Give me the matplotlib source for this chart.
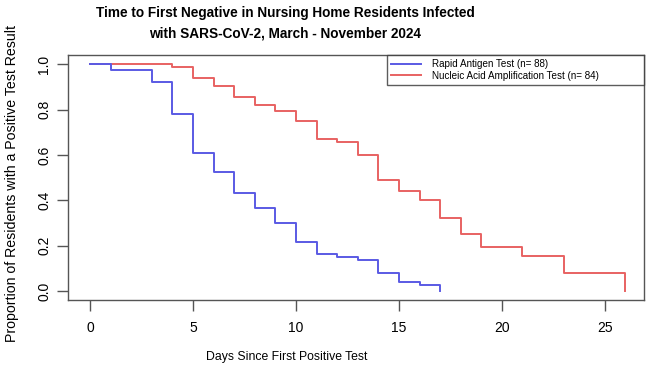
import matplotlib
matplotlib.use("Agg")
import matplotlib.pyplot as plt

plt.rcParams['font.family'] = ['Liberation Sans', 'DejaVu Sans']

# Kaplan-Meier style curves
rat_days = [0, 1, 3, 4, 5, 6, 7, 8, 9, 10, 11, 12, 13, 14, 15, 16, 17]
rat_surv = [1.0, 0.977, 0.92, 0.78, 0.61, 0.525, 0.43, 0.365, 0.30, 0.215,
            0.165, 0.15, 0.135, 0.08, 0.04, 0.025, 0.0]

naat_days = [0, 4, 5, 6, 7, 8, 9, 10, 11, 12, 13, 14, 15, 16, 17, 18, 19, 21, 23, 26]
naat_surv = [1.0, 0.988, 0.94, 0.905, 0.857, 0.82, 0.795, 0.75, 0.67, 0.655,
             0.60, 0.49, 0.44, 0.40, 0.32, 0.25, 0.195, 0.155, 0.078, 0.0]

xticks = [0, 5, 10, 15, 20, 25]
yticks = [0.0, 0.2, 0.4, 0.6, 0.8, 1.0]

W, H = 650, 371
fig = plt.figure(figsize=(6.5, 3.71), dpi=100)
ax = fig.add_axes([68 / W, 1 - 300 / H, (644 - 68) / W, (300 - 55) / H])

ax.plot(naat_days, naat_surv, drawstyle='steps-post', color='#e86262', lw=1.4,
        label='Nucleic Acid Amplification Test (n= 84)')
ax.plot(rat_days, rat_surv, drawstyle='steps-post', color='#5a5ae4', lw=1.4,
        label='Rapid Antigen Test (n= 88)')

ax.set_xlim(-1.07, 26.9)
ax.set_ylim(-0.04, 1.041)
ax.set_xticks(xticks)
ax.set_xticklabels([str(t) for t in xticks])
ax.set_yticks(yticks)
ax.set_yticklabels([f"{t:.1f}" for t in yticks], rotation=90, va='center')
ax.tick_params(direction='out', length=8, width=1, color='#555555',
               labelsize=10)
ax.tick_params(axis='x', pad=7)
ax.tick_params(axis='y', pad=4)
for s in ax.spines.values():
    s.set_color('#555555')
    s.set_linewidth(1)

h, l = ax.get_legend_handles_labels()
lx0 = (387 - 68) / 576
leg = ax.legend(h[::-1], l[::-1], loc='upper left', mode='expand',
                bbox_to_anchor=(lx0, 0, 1 - lx0, 1.0), fontsize=7.1,
                frameon=True, fancybox=False, edgecolor='#333333',
                borderaxespad=0, handlelength=3.0, labelspacing=0.15,
                borderpad=0.45, handletextpad=1.1)
leg.get_frame().set_linewidth(1)

fig.text(285 / W, 1 - 13 / H, 'Time to First Negative in Nursing Home Residents Infected',
         ha='center', va='center', fontsize=9.8, fontweight='bold')
fig.text(285 / W, 1 - 33 / H, 'with SARS-CoV-2, March - November 2024',
         ha='center', va='center', fontsize=9.8, fontweight='bold')
fig.text(287 / W, 1 - 357 / H, 'Days Since First Positive Test',
         ha='center', va='center', fontsize=8.8)
fig.text(12 / W, 1 - 183 / H, 'Proportion of Residents with a Positive Test Result',
         ha='center', va='center', rotation=90, fontsize=10.2)

fig.savefig('out.png', dpi=100)
